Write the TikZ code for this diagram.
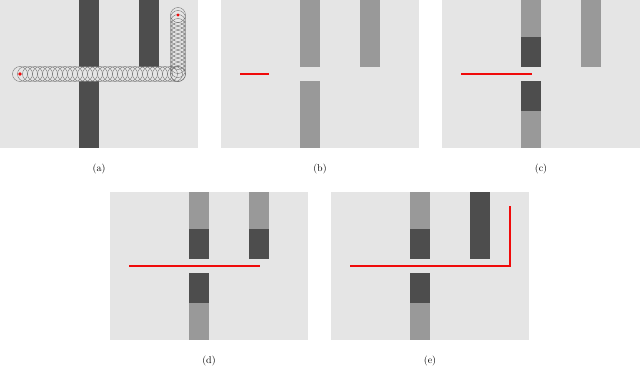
\documentclass[tikz,border=0pt]{standalone}
\definecolor{fondo}{RGB}{229,229,229}
\definecolor{oscuro}{RGB}{77,77,77}
\definecolor{claro}{RGB}{153,153,153}
\definecolor{rojo}{RGB}{240,10,10}
\usetikzlibrary{positioning}

\begin{document}
\begin{tikzpicture}[x=1pt,y=-1pt,
    panel/.style={fill=fondo,draw=none,minimum width=198pt,
                  minimum height=148pt,inner sep=0pt},
    darkbar/.style={fill=oscuro},
    lightbar/.style={fill=claro},
    trail/.style={draw=black!60,line width=0.35pt},
    route/.style={draw=rojo,line width=2pt},
    tag/.style={font=\normalsize,inner sep=3pt}]
      \useasboundingbox (0,0) rectangle (640,367);

      % (a) swept footprint of the robot
      \node[panel] (pa) at (99,74) {};
      \fill[oscuro] (79,0) rectangle (99,148);
      \fill[oscuro] (139,0) rectangle (159,70);
      \foreach \cx in {20,25,...,175,178}
        \fill[fondo] (\cx,74) circle (7.5);
      \foreach \cy in {74,70,...,18,15}
        \fill[fondo] (178,\cy) circle (7.5);
      \foreach \cx in {20,25,...,175,178}
        \draw[trail] (\cx,74) circle (7.5);
      \foreach \cy in {74,70,...,18,15}
        \draw[trail] (178,\cy) circle (7.5);
      \fill[rojo] (20,74) circle (1.8);
      \fill[rojo] (178,15) circle (1.6);
      \node[tag,below=13pt of pa] (la) {(a)};

      % (b)
      \begin{scope}[shift={(221,0)}]
        \node[panel] (pb) at (99,74) {};
        \fill[lightbar] (79,0) rectangle (99,67);
        \fill[lightbar] (79,81) rectangle (99,148);
        \fill[lightbar] (139,0) rectangle (159,67);
        \draw[route] (19,74) -- (48,74);
        \node[tag,below=13pt of pb] (lb) {(b)};
      \end{scope}

      % (c)
      \begin{scope}[shift={(442,0)}]
        \node[panel] (pc) at (99,74) {};
        \fill[lightbar] (139,0) rectangle (159,67);
        \node[tag,below=13pt of pc] (lc) {(c)};
      \end{scope}

      % (d)
      \begin{scope}[shift={(110,192)}]
        \node[panel] (pd) at (99,74) {};
        \fill[lightbar] (139,0) rectangle (159,37);
        \fill[darkbar] (139,37) rectangle (159,67);
        \node[tag,below=13pt of pd] (ld) {(d)};
      \end{scope}

      % (e)
      \begin{scope}[shift={(331,192)}]
        \node[panel] (pe) at (99,74) {};
        \fill[darkbar] (139,0) rectangle (159,67);
        \node[tag,below=13pt of pe] (le) {(e)};
      \end{scope}

      % middle corridor, same in (c), (d) and (e)
      \foreach \ox/\oy in {442/0,110/192,331/192}
      {
        \begin{scope}[shift={(\ox,\oy)}]
          \fill[lightbar] (79,0) rectangle (99,37);
          \fill[darkbar]  (79,37) rectangle (99,67);
          \fill[darkbar]  (79,81) rectangle (99,111);
          \fill[lightbar] (79,111) rectangle (99,148);
        \end{scope}
      }

      \begin{scope}[shift={(442,0)}]
        \draw[route] (19,74) -- (90,74);
      \end{scope}
      \begin{scope}[shift={(110,192)}]
        \draw[route] (19,74) -- (150,74);
      \end{scope}
      \begin{scope}[shift={(331,192)}]
        \draw[route] (19,74) -- (179,74) -- (179,14);
      \end{scope}
    \end{tikzpicture}
\end{document}
